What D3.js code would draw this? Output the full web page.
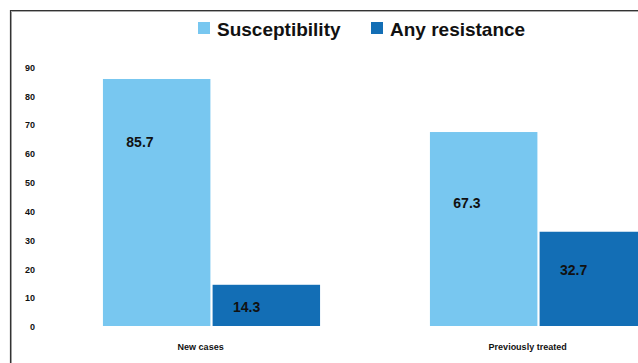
<!DOCTYPE html>
<html>
<head>
<meta charset="utf-8">
<script src="https://cdn.jsdelivr.net/npm/d3@7"></script>
<style>
    html, body { margin: 0; padding: 0; background: #fff; }
    svg { display: block; font-family: "Liberation Sans", Arial, sans-serif; }
</style>
</head>
<body>
<div id="chart"></div>
<script>
// Data
const categories = ['New cases', 'Previously treated'];
const seriesNames = ['Susceptibility', 'Any resistance'];
const susceptibility = [85.7, 67.3];
const anyResistance = [14.3, 32.7];
const yTicks = [0, 10, 20, 30, 40, 50, 60, 70, 80, 90];

const COLORS = { 'Susceptibility': '#78c7f0', 'Any resistance': '#136eb5' };

const W = 638, H = 363;

const svg = d3.select('#chart')
    .append('svg')
    .attr('width', W)
    .attr('height', H);

// Frame (left + top edges are the only ones visible in the crop)
svg.append('path')
    .attr('d', `M10.5,${H} V10.5 H${W}`)
    .attr('fill', 'none')
    .attr('stroke', '#aaa')
    .attr('stroke-width', 1)
    .attr('transform', 'translate(1,1)');
svg.append('path')
    .attr('d', `M10.5,${H} V10.5 H${W}`)
    .attr('fill', 'none')
    .attr('stroke', '#333')
    .attr('stroke-width', 1.2);

// Scales
const y = d3.scaleLinear().domain([0, 90]).range([326, 66.6]);

const x0 = d3.scaleBand()
    .domain(categories)
    .range([48, 702])
    .paddingInner(0.336)
    .paddingOuter(0.168);

const x1 = d3.scaleBand()
    .domain(seriesNames)
    .range([0, x0.bandwidth()])
    .paddingInner(0.02);

// Y tick labels (no axis line, no gridlines)
svg.append('g')
    .selectAll('text')
    .data(yTicks)
    .join('text')
    .attr('x', 35)
    .attr('y', d => y(d) + 1)
    .attr('dy', '0.35em')
    .attr('text-anchor', 'end')
    .attr('font-size', 9)
    .attr('font-weight', 'bold')
    .attr('fill', '#111')
    .text(d => d);

// Bars
const rows = categories.map((c, i) => ({
    category: c,
    values: [
        { series: 'Susceptibility', value: susceptibility[i] },
        { series: 'Any resistance', value: anyResistance[i] }
    ]
}));

// where each value label sits inside its bar, as a share of bar height
const labelShare = { 'New cases': [0.743, 0.46], 'Previously treated': [0.633, 0.59] };

const groups = svg.append('g')
    .selectAll('g')
    .data(rows)
    .join('g')
    .attr('transform', d => `translate(${x0(d.category)},0)`);

groups.selectAll('rect')
    .data(d => d.values)
    .join('rect')
    .attr('x', d => x1(d.series))
    .attr('y', d => y(d.value))
    .attr('width', x1.bandwidth())
    .attr('height', d => y(0) - y(d.value))
    .attr('fill', d => COLORS[d.series]);

groups.selectAll('text.val')
    .data(d => d.values.map((v, j) => ({ ...v, share: labelShare[d.category][j] })))
    .join('text')
    .attr('class', 'val')
    .attr('x', d => x1(d.series) + (d.series === 'Susceptibility' ? 37 : 34))
    .attr('y', d => y(d.value * d.share))
    .attr('dy', '0.35em')
    .attr('text-anchor', 'middle')
    .attr('font-size', 14)
    .attr('font-weight', 'bold')
    .attr('fill', '#111')
    .text(d => d.value.toFixed(1));

// Category labels
svg.append('g')
    .selectAll('text')
    .data(categories)
    .join('text')
    .attr('x', d => x0(d) + x0.bandwidth() * 0.45)
    .attr('y', 347)
    .attr('dy', '0.35em')
    .attr('text-anchor', 'middle')
    .attr('font-size', 9)
    .attr('font-weight', 'bold')
    .attr('fill', '#111')
    .text(d => d);

// Legend
const legendX = [198, 371];
const legend = svg.append('g')
    .selectAll('g')
    .data(seriesNames)
    .join('g')
    .attr('transform', (d, i) => `translate(${legendX[i]},22)`);

legend.append('rect')
    .attr('width', 12)
    .attr('height', 12)
    .attr('fill', d => COLORS[d]);

legend.append('text')
    .attr('x', 19)
    .attr('y', 7)
    .attr('dy', '0.35em')
    .attr('font-size', 19)
    .attr('font-weight', 'bold')
    .attr('fill', '#111')
    .text(d => d);
</script>
</body>
</html>
